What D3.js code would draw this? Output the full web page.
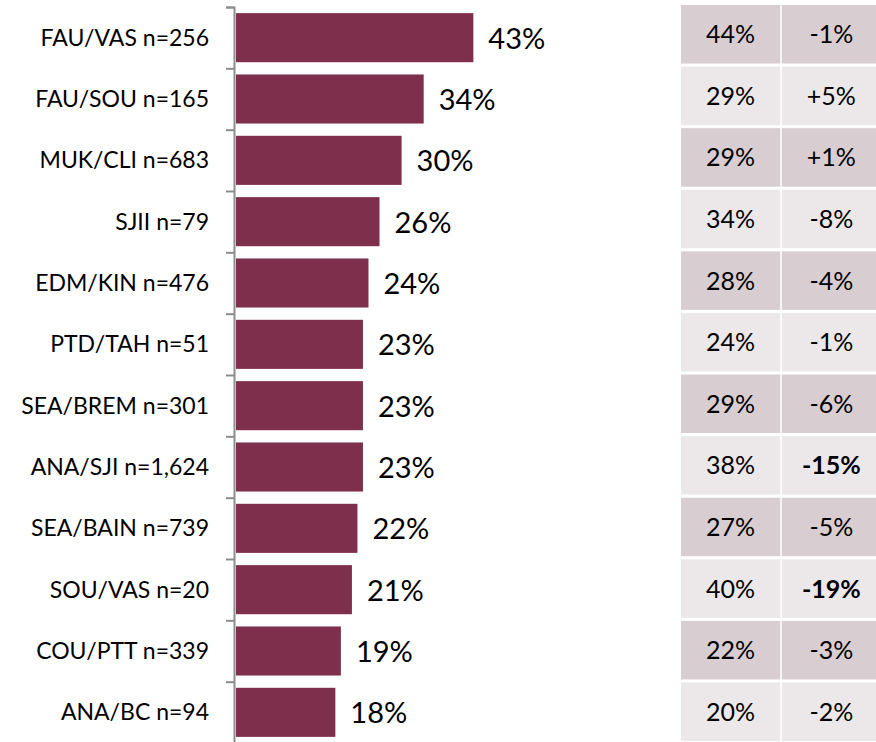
<!DOCTYPE html>
<html>
<head>
<meta charset="utf-8">
<script src="https://cdn.jsdelivr.net/npm/d3@7"></script>
<style>
    body { margin: 0; background: #fff; }
    svg { display: block; }
    text { font-family: Lato, "Open Sans", sans-serif; fill: #000; }
</style>
</head>
<body>
<div id="chart"></div>
<script>

// Chart data
var categories = ["FAU/VAS n=256", "FAU/SOU n=165", "MUK/CLI n=683", "SJII n=79", "EDM/KIN n=476", "PTD/TAH n=51",
    "SEA/BREM n=301", "ANA/SJI n=1,624", "SEA/BAIN n=739", "SOU/VAS n=20", "COU/PTT n=339", "ANA/BC n=94"];
var currentPct = [43, 34, 30, 26, 24, 23, 23, 23, 22, 21, 19, 18];
var previousPct = [44, 29, 29, 34, 28, 24, 29, 38, 27, 40, 22, 20];
var changePct = [-1, 5, 1, -8, -4, -1, -6, -15, -5, -19, -3, -2];
var tableColumns = ["previous", "change"];

var width = 876, height = 742;

var rows = categories.map(function(c, i) {
    return {name: c, value: currentPct[i], previous: previousPct[i], change: changePct[i], index: i};
});

var svg = d3.select("#chart").append("svg")
    .attr("width", width)
    .attr("height", height);

// scales
var x = d3.scaleLinear().domain([0, 50]).range([236, 512]);
var y = d3.scaleBand().domain(categories).range([7, 743]).paddingInner(0.2).paddingOuter(0.1);
var yTicks = d3.scaleLinear().domain([0, categories.length]).range([7, 743]);

// axis with ticks between categories
svg.append("g")
    .attr("transform", "translate(234,0)")
    .call(d3.axisLeft(yTicks).tickValues(d3.range(categories.length + 1)).tickSize(8).tickFormat(""))
    .call(function(g) {
        g.select(".domain").attr("stroke", "#8c8c8c").attr("stroke-width", 2);
        g.selectAll(".tick line").attr("stroke", "#8c8c8c").attr("stroke-width", 2);
    });

// bars
svg.append("g")
    .selectAll("rect")
    .data(rows)
    .join("rect")
    .attr("x", x(0))
    .attr("y", d => y(d.name))
    .attr("width", d => x(d.value) - x(0))
    .attr("height", y.bandwidth())
    .attr("fill", "#7d2f4c");

// category labels
svg.append("g")
    .selectAll("text")
    .data(rows)
    .join("text")
    .attr("x", 209)
    .attr("y", d => y(d.name) + y.bandwidth() / 2 + 8)
    .attr("text-anchor", "end")
    .attr("font-size", 23)
    .text(d => d.name);

// value labels
svg.append("g")
    .selectAll("text")
    .data(rows)
    .join("text")
    .attr("x", d => x(d.value) + 15)
    .attr("y", d => y(d.name) + y.bandwidth() / 2 + 11)
    .attr("font-size", 29)
    .text(d => d.value + "%");

// comparison table on the right
var tx = d3.scaleBand().domain(tableColumns).range([681, 881]).paddingInner(0.015);
var ty = d3.scaleBand().domain(categories).range([5, 741]).paddingInner(0.05);

var cells = [];
rows.forEach(function(r) {
    cells.push({row: r, col: "previous", text: r.previous + "%", bold: false});
    cells.push({row: r, col: "change", text: (r.change > 0 ? "+" : "") + r.change + "%", bold: Math.abs(r.change) >= 10});
});

var cell = svg.append("g")
    .selectAll("g")
    .data(cells)
    .join("g")
    .attr("transform", d => `translate(${tx(d.col)},${ty(d.row.name)})`);

cell.append("rect")
    .attr("width", tx.bandwidth())
    .attr("height", ty.bandwidth())
    .attr("fill", d => d.row.index % 2 === 0 ? "#d8cdd1" : "#ece8ea");

cell.append("text")
    .attr("x", tx.bandwidth() / 2)
    .attr("y", ty.bandwidth() / 2 + 9)
    .attr("text-anchor", "middle")
    .attr("font-size", 25)
    .attr("font-weight", d => d.bold ? "bold" : "normal")
    .text(d => d.text);

</script>
</body>
</html>
